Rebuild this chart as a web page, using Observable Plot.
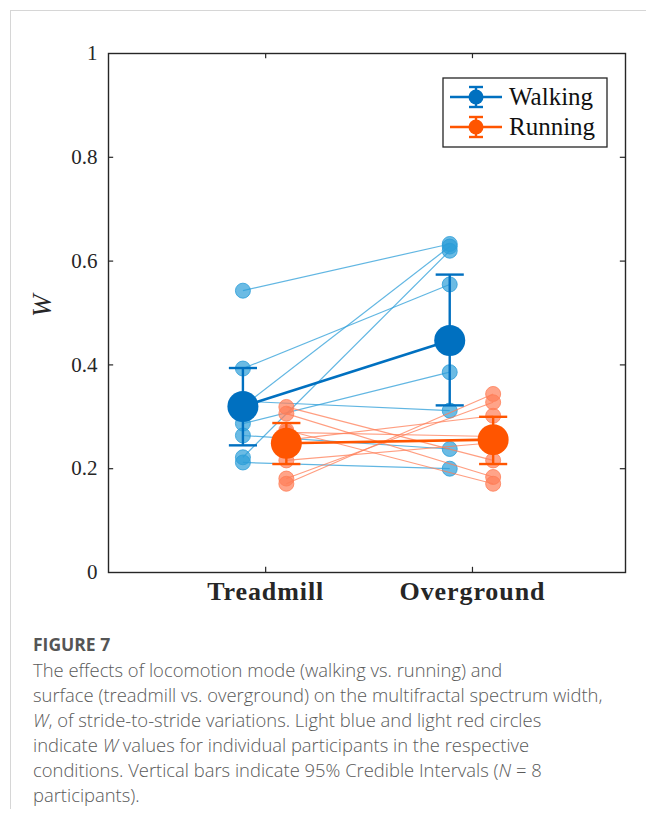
<!DOCTYPE html>
<html><head><meta charset="utf-8">
<script src="https://cdn.jsdelivr.net/npm/d3@7"></script>
<script src="https://cdn.jsdelivr.net/npm/@observablehq/plot@0.6"></script>
<style>
html,body{margin:0;padding:0;background:#fff}
body{width:646px;height:821px;position:relative;overflow:hidden}
#border{position:absolute;left:10px;top:10px;width:700px;height:798px;border-left:1px solid #d6d6d6;border-top:1px solid #d6d6d6}
#chart{position:absolute;left:0;top:0}
#legend{position:absolute;left:0;top:0}
#caption{position:absolute;left:33px;top:632px;width:612px;font-family:"Open Sans",sans-serif;color:#5a5a5a;font-size:18.4px;line-height:25px;font-weight:300;white-space:nowrap}
#caption .fig{font-weight:700;font-size:17.5px;color:#555}
</style></head>
<body>
<div id="border"></div>
<div id="chart"></div>
<svg id="legend" width="646" height="200"></svg>
<div id="caption">
<div class="fig">FIGURE 7</div>
The effects of locomotion mode (walking vs. running) and<br>
surface (treadmill vs. overground) on the multifractal spectrum width,<br>
<i>W</i>, of stride-to-stride variations. Light blue and light red circles<br>
indicate <i>W</i> values for individual participants in the respective<br>
conditions. Vertical bars indicate 95% Credible Intervals (<i>N</i> = 8<br>
participants).
</div>
<script>
// ---- data ----
const conditions = ["Treadmill", "Overground"];
const modes = ["Walking", "Running"];
const yTicks = [0, 0.2, 0.4, 0.6, 0.8, 1];

const walkTreadmill  = [0.543, 0.393, 0.320, 0.222, 0.287, 0.330, 0.264, 0.212];
const walkOverground = [0.633, 0.555, 0.628, 0.620, 0.386, 0.312, 0.238, 0.200];
const runTreadmill   = [0.319, 0.306, 0.274, 0.270, 0.255, 0.216, 0.181, 0.171];
const runOverground  = [0.216, 0.184, 0.171, 0.262, 0.302, 0.250, 0.328, 0.344];

const walkMean  = [0.320, 0.447];
const walkLower = [0.245, 0.322];
const walkUpper = [0.394, 0.574];
const runMean   = [0.249, 0.256];
const runLower  = [0.209, 0.209];
const runUpper  = [0.288, 0.300];

// ---- styling ----
const blue = "#0070C0", lightBlue = "#2C9ED8";
const red = "#FF5500", lightRed = "#FF7E57";
const offset = {Walking: -0.11, Running: 0.1};
const capHalf = 0.068;
const serif = "'Liberation Serif', 'DejaVu Serif', serif";

const pairs = (t, o, mode) => t.map((v, i) => ({mode, t: v, o: o[i]}));
const walkPairs = pairs(walkTreadmill, walkOverground, "Walking");
const runPairs = pairs(runTreadmill, runOverground, "Running");
const indiv = p => p.flatMap(d => [{mode: d.mode, c: 1, y: d.t}, {mode: d.mode, c: 2, y: d.o}]);
const summary = (m, lo, hi, mode) => m.map((v, i) => ({mode, c: i + 1, y: v, lo: lo[i], hi: hi[i]}));
const walkSum = summary(walkMean, walkLower, walkUpper, "Walking");
const runSum = summary(runMean, runLower, runUpper, "Running");

const X = d => d.c + offset[d.mode];

function group(p, light) {
  return [
    Plot.link(p, {x1: d => 1 + offset[d.mode], x2: d => 2 + offset[d.mode], y1: "t", y2: "o", stroke: light, strokeWidth: 1.2, strokeOpacity: 0.75}),
    Plot.dot(indiv(p), {x: X, y: "y", r: 7.5, fill: light, fillOpacity: 0.7, stroke: light, strokeOpacity: 0.8, strokeWidth: 1})
  ];
}
function means(s, col) {
  return [
    Plot.link([s], {x1: d => 1 + offset[d[0].mode], x2: d => 2 + offset[d[1].mode], y1: d => d[0].y, y2: d => d[1].y, stroke: col, strokeWidth: 2.6}),
    Plot.ruleX(s, {x: X, y1: "lo", y2: "hi", stroke: col, strokeWidth: 2.4}),
    Plot.link(s, {x1: d => X(d) - capHalf, x2: d => X(d) + capHalf, y1: "lo", y2: "lo", stroke: col, strokeWidth: 2.4}),
    Plot.link(s, {x1: d => X(d) - capHalf, x2: d => X(d) + capHalf, y1: "hi", y2: "hi", stroke: col, strokeWidth: 2.4}),
    Plot.dot(s, {x: X, y: "y", r: 15.5, fill: col})
  ];
}

const frameColor = "#262626";
const chart = Plot.plot({
  width: 646,
  height: 612,
  marginLeft: 108,
  marginRight: 21,
  marginTop: 53,
  marginBottom: 40,
  x: {domain: [0.24, 2.74]},
  y: {domain: [0, 1]},
  style: {fontFamily: serif, color: "#262626", background: "transparent"},
  marks: [
    Plot.frame({stroke: frameColor, strokeWidth: 1.4}),
    Plot.ruleY(yTicks.slice(1, -1), {y: d => d, x1: 0.24, x2: 0.265, stroke: frameColor, strokeWidth: 1.2}),
    Plot.ruleY(yTicks.slice(1, -1), {y: d => d, x1: 2.715, x2: 2.74, stroke: frameColor, strokeWidth: 1.2}),
    Plot.ruleX([1, 2], {x: d => d, y1: 1, y2: 0.99, stroke: frameColor, strokeWidth: 1.2}),
    Plot.ruleX([1, 2], {x: d => d, y1: 0, y2: 0.01, stroke: frameColor, strokeWidth: 1.2}),
    Plot.axisY({ticks: yTicks, tickSize: 0, tickPadding: 11, fontSize: 21,
      tickFormat: d => (d === 0 || d === 1) ? String(d) : d.toFixed(1)}),
    Plot.axisX({ticks: [1, 2], tickSize: 0, tickPadding: 9, fontSize: 26, fontWeight: "bold",
      tickFormat: d => conditions[d - 1]}),
    Plot.text(["W"], {frameAnchor: "left", dx: -66, dy: 4, rotate: -90, text: d => d, fontStyle: "italic", fontSize: 27}),
    ...group(walkPairs, lightBlue),
    ...group(runPairs, lightRed),
    ...means(walkSum, blue),
    ...means(runSum, red)
  ]
});
d3.select(chart).selectAll("[aria-label='x-axis tick label'] text").style("letter-spacing", "0.9px");
document.getElementById("chart").appendChild(chart);

// ---- legend ----
const lg = d3.select("#legend");
lg.append("rect").attr("x", 443).attr("y", 78).attr("width", 164).attr("height", 69)
  .attr("fill", "#fff").attr("stroke", frameColor).attr("stroke-width", 1.3);
[[modes[0], blue, 97], [modes[1], red, 127]].forEach(([name, col, cy]) => {
  const g = lg.append("g");
  g.append("line").attr("x1", 450).attr("x2", 502).attr("y1", cy).attr("y2", cy).attr("stroke", col).attr("stroke-width", 2.4);
  g.append("line").attr("x1", 476).attr("x2", 476).attr("y1", cy - 10).attr("y2", cy + 10).attr("stroke", col).attr("stroke-width", 2.4);
  g.append("line").attr("x1", 469).attr("x2", 483).attr("y1", cy - 10).attr("y2", cy - 10).attr("stroke", col).attr("stroke-width", 2.4);
  g.append("line").attr("x1", 469).attr("x2", 483).attr("y1", cy + 10).attr("y2", cy + 10).attr("stroke", col).attr("stroke-width", 2.4);
  g.append("circle").attr("cx", 476).attr("cy", cy).attr("r", 7.5).attr("fill", col);
  g.append("text").attr("x", 509).attr("y", cy + 8).attr("font-family", serif).attr("font-size", 25)
    .attr("fill", "#111").text(name);
});
</script>
</body></html>
